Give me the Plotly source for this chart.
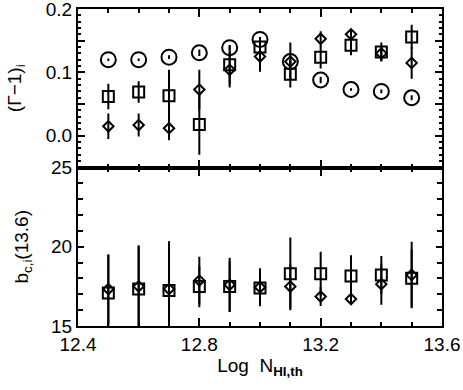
import plotly.graph_objects as go
from plotly.subplots import make_subplots

# threshold column densities
log_n = [12.5, 12.6, 12.7, 12.8, 12.9, 13.0, 13.1, 13.2, 13.3, 13.4, 13.5]

# top panel: (Gamma - 1)_i
gam_circ = [0.120, 0.120, 0.124, 0.131, 0.139, 0.152, 0.117, 0.088, 0.073, 0.070, 0.060]
gam_circ_err = [0.002, 0.002, 0.003, 0.005, 0.004, 0.004, 0.003, 0.005, 0.002, 0.003, 0.004]
gam_sq = [0.062, 0.069, 0.063, 0.018, 0.112, 0.140, 0.097, 0.124, 0.143, 0.132, 0.156]
gam_sq_err = [0.020, 0.017, 0.041, 0.048, 0.031, 0.015, 0.021, 0.018, 0.016, 0.015, 0.019]
gam_dia = [0.015, 0.017, 0.012, 0.073, 0.104, 0.125, 0.117, 0.153, 0.160, 0.130, 0.115]
gam_dia_err = [0.020, 0.018, 0.019, 0.031, 0.028, 0.024, 0.030, 0.012, 0.008, 0.012, 0.025]

# bottom panel: b_c,i(13.6)
b_sq = [17.08, 17.33, 17.24, 17.49, 17.49, 17.39, 18.29, 18.29, 18.16, 18.22, 18.02]
b_sq_err = [2.4, 2.7, 3.1, 1.3, 1.6, 1.1, 2.3, 1.4, 1.3, 1.2, 1.8]
b_dia = [17.33, 17.50, 17.33, 17.87, 17.60, 17.45, 17.49, 16.86, 16.70, 17.64, 18.22]
b_dia_err = [2.2, 2.6, 3.0, 1.5, 1.7, 1.2, 1.4, 0.6, 0.3, 1.3, 2.1]

FONT = "Liberation Sans, Arial, sans-serif"
FS = 19


def point_trace(x, y, err, symbol, size):
    return go.Scatter(
        x=x, y=y, mode="markers",
        marker=dict(symbol=symbol, size=size, color="black", line=dict(width=2, color="black")),
        error_y=dict(type="data", array=err, visible=True, width=0, thickness=2, color="black"),
        showlegend=False,
    )


fig = make_subplots(rows=2, cols=1, shared_xaxes=True, vertical_spacing=0)

fig.add_trace(point_trace(log_n, gam_circ, gam_circ_err, "circle-open", 15), row=1, col=1)
fig.add_trace(point_trace(log_n, gam_sq, gam_sq_err, "square-open", 11), row=1, col=1)
fig.add_trace(point_trace(log_n, gam_dia, gam_dia_err, "diamond-open", 8), row=1, col=1)

fig.add_trace(point_trace(log_n, b_sq, b_sq_err, "square-open", 11), row=2, col=1)
fig.add_trace(point_trace(log_n, b_dia, b_dia_err, "diamond-open", 8), row=2, col=1)

axis_common = dict(
    showline=True, linecolor="black", linewidth=2, mirror="ticks",
    ticks="inside", tickcolor="black", tickwidth=1.5,
    showgrid=False, zeroline=False, automargin=False, ticklabeloverflow="allow",
    tickfont=dict(family=FONT, size=FS, color="black"),
)

fig.update_xaxes(
    range=[12.4, 13.6], tick0=12.4, dtick=0.4, ticklen=8,
    minor=dict(dtick=0.1, ticklen=4, ticks="inside", tickcolor="black", tickwidth=1.5, showgrid=False),
    tickformat=".1f", **axis_common,
)
fig.update_xaxes(showticklabels=False, row=1, col=1)
fig.update_xaxes(
    title=dict(text="Log  N<sub><b>HI,th</b></sub>", font=dict(family=FONT, size=FS, color="black"), standoff=4),
    row=2, col=1,
)

fig.update_yaxes(
    range=[-0.05, 0.2], tickmode="array",
    tickvals=[0.0, 0.05, 0.1, 0.15, 0.2], ticktext=["0.0", "", "0.1", "", "0.2"], ticklen=7,
    minor=dict(tickmode="linear", tick0=0, dtick=0.01, ticklen=3, ticks="inside",
               tickcolor="black", tickwidth=1.5, showgrid=False),
    title=dict(text="(Γ−1)<sub>i</sub>", font=dict(family=FONT, size=FS, color="black"), standoff=19),
    row=1, col=1, **axis_common,
)
fig.update_yaxes(
    range=[15, 25], tick0=15, dtick=5, ticklen=6,
    minor=dict(dtick=1, ticklen=5, ticks="inside", tickcolor="black", tickwidth=1.5, showgrid=False),
    title=dict(text="b<sub>c,i</sub>(13.6)", font=dict(family=FONT, size=FS, color="black"), standoff=17),
    row=2, col=1, **axis_common,
)

fig.update_layout(
    width=463, height=390,
    margin=dict(l=78, r=21, t=9, b=64),
    paper_bgcolor="white", plot_bgcolor="white",
    font=dict(family=FONT, color="black"),
)

# drop the browser's default body margin so the figure sits at the page corner
fig.write_html("out.html", config={"displayModeBar": False},
               post_script="document.body.style.margin = '0px';")
